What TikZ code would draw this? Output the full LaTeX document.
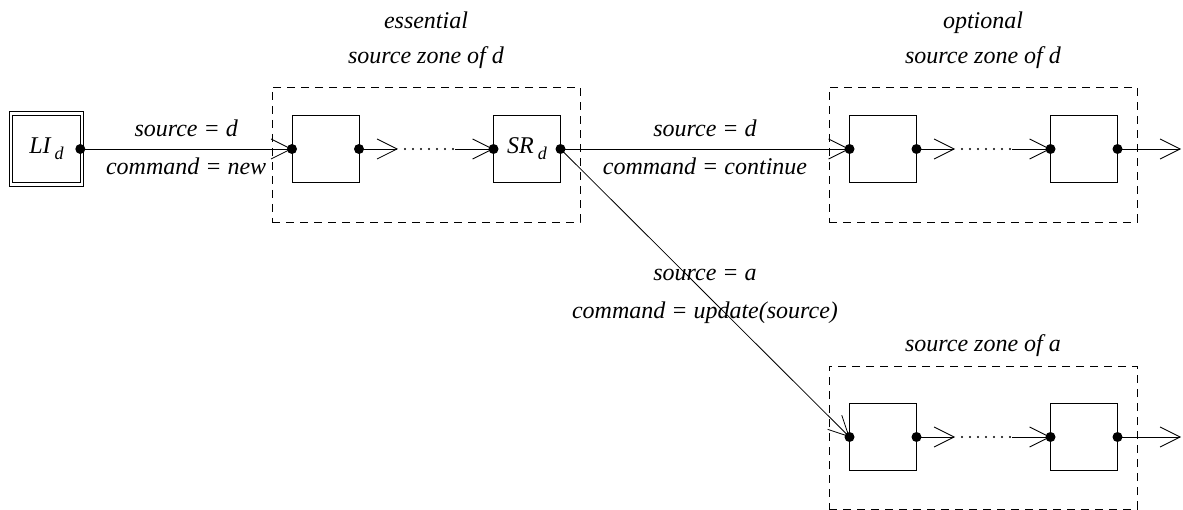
\documentclass[tikz,border=0pt]{standalone}
\usepackage{fontspec}
\setmainfont{Liberation Serif}
\usetikzlibrary{arrows.meta,positioning}

% lowered index letter, as in LI_d and SR_d
\newcommand{\lowidx}[1]{\,\raisebox{-0.55ex}{\fontsize{18}{18}\selectfont #1}}

\begin{document}
\begin{tikzpicture}[x=1pt,y=-1pt]
    % --- MANUAL CONFIGURATION ---
    % 1. Box size and the two rows of the chain
    \def\BoxSize{67pt}
    \def\RowA{149}
    \def\RowB{437}
    % 2. Text size of all labels
    \def\LabelFont{\fontsize{24}{35}\selectfont\itshape}

    % --- STYLES ---
    \tikzset{
        stageBox/.style={rectangle, draw, line width=0.8pt, minimum size=\BoxSize, inner sep=0pt, outer sep=0pt, font=\LabelFont},
        startBox/.style={stageBox, double, double distance=2.6pt, minimum size=71pt},
        zoneBox/.style={rectangle, draw, line width=0.7pt, dash pattern=on 8pt off 6pt, inner sep=0pt},
        zoneLabel/.style={align=center, font=\LabelFont, inner sep=0pt},
        portDot/.style={circle, fill, inner sep=0pt, minimum size=10pt},
        flowLine/.style={-{Straight Barb[length=20pt,width=20pt]}, line width=0.8pt},
        skipLine/.style={line width=2.4pt, line cap=round, dash pattern=on 0pt off 8pt},
        flowLabel/.style={font=\LabelFont}
    }

    \useasboundingbox (0,0) rectangle (1183,510);

    % --- ZONES ---
    \node[zoneBox, minimum width=308pt, minimum height=135pt] (essZone) at (426,154.5) {};
    \node[zoneBox, minimum width=308pt, minimum height=135pt] (optZone) at (983,154.5) {};
    \node[zoneBox, minimum width=308pt, minimum height=143pt] (aZone) at (983,437.5) {};

    \node[zoneLabel, above=18pt of essZone] (essLabel) {essential\\source zone of d};
    \node[zoneLabel, above=18pt of optZone] (optLabel) {optional\\source zone of d};
    \node[zoneLabel, above=9pt of aZone] (aLabel) {source zone of a};

    % --- NODES ---

    % Start box
    \node[startBox] (li) at (46.5,\RowA) {LI\lowidx{d}};

    % Essential zone of d
    \node[stageBox] (b1) at (325.5,\RowA) {};
    \node[stageBox] (sr) at (527,\RowA) {SR\lowidx{d}};

    % Optional zone of d
    \node[stageBox] (b3) at (883,\RowA) {};
    \node[stageBox] (b4) at (1084,\RowA) {};

    % Zone of a
    \node[stageBox] (b5) at (883,\RowB) {};
    \node[stageBox] (b6) at (1084,\RowB) {};

    % Ports
    \node[portDot] (liOut) at ([xshift=-1.7pt]li.east) {};
    \foreach \b in {b1,sr,b3,b4,b5,b6}{
        \node[portDot] (\b In) at (\b.west) {};
        \node[portDot] (\b Out) at (\b.east) {};
    }

    % Ends of the dotted gaps and of the open exits
    \coordinate (gapA1) at (398,\RowA);
    \coordinate (gapA2) at (455,\RowA);
    \coordinate (gapB1) at (955,\RowA);
    \coordinate (gapB2) at (1012,\RowA);
    \coordinate (gapC1) at (955,\RowB);
    \coordinate (gapC2) at (1012,\RowB);
    \coordinate (exitA) at (1181,\RowA);
    \coordinate (exitB) at (1181,\RowB);

    % --- ARROWS ---

    \draw[flowLine] (liOut.center) -- node[flowLabel, above=8pt] {source = d}
        node[flowLabel, below=5pt] {command = new} (b1In.center);

    \draw[flowLine] (srOut.center) -- node[flowLabel, above=8pt] {source = d}
        node[flowLabel, below=5pt] {command = continue} (b3In.center);

    \draw[flowLine] (srOut.center) -- node[flowLabel, above=8pt] {source = a}
        node[flowLabel, below=5pt] {command = update(source)} (b5In.center);

    % Chains inside the zones
    \draw[flowLine] (b1Out.center) -- (gapA1);
    \draw[skipLine] ([xshift=7pt]gapA1) -- (gapA2);
    \draw[flowLine] (gapA2) -- (srIn.center);

    \draw[flowLine] (b3Out.center) -- (gapB1);
    \draw[skipLine] ([xshift=7pt]gapB1) -- (gapB2);
    \draw[flowLine] (gapB2) -- (b4In.center);

    \draw[flowLine] (b5Out.center) -- (gapC1);
    \draw[skipLine] ([xshift=7pt]gapC1) -- (gapC2);
    \draw[flowLine] (gapC2) -- (b6In.center);

    \draw[flowLine] (b4Out.center) -- (exitA);
    \draw[flowLine] (b6Out.center) -- (exitB);

\end{tikzpicture}
\end{document}
